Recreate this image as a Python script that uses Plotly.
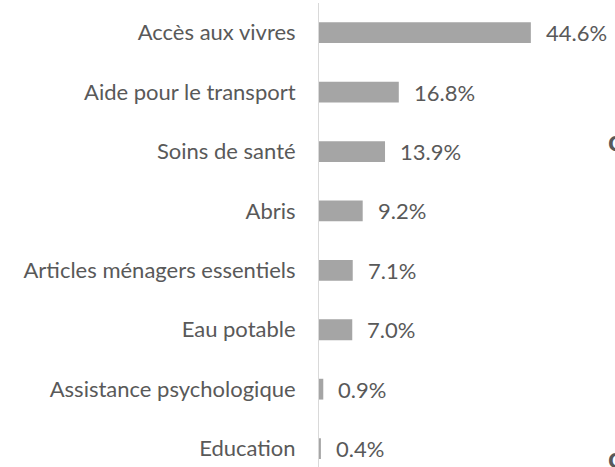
import plotly.graph_objects as go

categories = ["Accès aux vivres", "Aide pour le transport", "Soins de santé", "Abris",
              "Articles ménagers essentiels", "Eau potable", "Assistance psychologique", "Education"]
values = [44.6, 16.8, 13.9, 9.2, 7.1, 7.0, 0.9, 0.4]
labels = ["44.6%", "16.8%", "13.9%", "9.2%", "7.1%", "7.0%", "0.9%", "0.4%"]

FONT = "Lato"
TXT = "#595959"
FS = 22

fig = go.Figure(go.Bar(
    y=categories, x=values, orientation="h",
    marker=dict(color="#a5a5a5", line=dict(width=0)),
    width=0.35, hoverinfo="skip",
))

annotations = [
    dict(x=v, y=c, xref="x", yref="y", text=t, showarrow=False,
         xanchor="left", yanchor="middle", xshift=13,
         font=dict(family=FONT, size=FS, color=TXT))
    for c, v, t in zip(categories, values, labels)
]
annotations += [
    dict(text="<b>c</b>", xref="paper", yref="paper", x=1.0, y=1 - (139 - 3) / 464,
         xanchor="left", yanchor="middle", xshift=-9, showarrow=False,
         font=dict(family=FONT, size=29, color=TXT)),
    dict(text="<b>c</b>", xref="paper", yref="paper", x=1.0, y=1 - (456 - 3) / 464,
         xanchor="left", yanchor="middle", xshift=-9, showarrow=False,
         font=dict(family=FONT, size=29, color=TXT)),
]

fig.update_layout(
    width=615, height=467,
    margin=dict(l=319, r=0, t=3, b=0, autoexpand=False),
    paper_bgcolor="white", plot_bgcolor="white",
    showlegend=False,
    font=dict(family=FONT, size=FS, color=TXT),
    xaxis=dict(range=[0, 296/4.75], visible=False, fixedrange=True),
    yaxis=dict(categoryorder="array", categoryarray=categories,
               range=[7.31, -0.5], showline=True, linecolor="#d9d9d9", linewidth=1,
               ticks="outside", ticklen=18, tickcolor="rgba(0,0,0,0)",
               showgrid=False, automargin=False, fixedrange=True,
               tickfont=dict(family=FONT, size=FS, color=TXT)),
    annotations=annotations,
)

fig.write_html("out.html", config={"displayModeBar": False, "staticPlot": True},
               post_script="document.body.style.margin='0';document.body.style.overflow='hidden';")
